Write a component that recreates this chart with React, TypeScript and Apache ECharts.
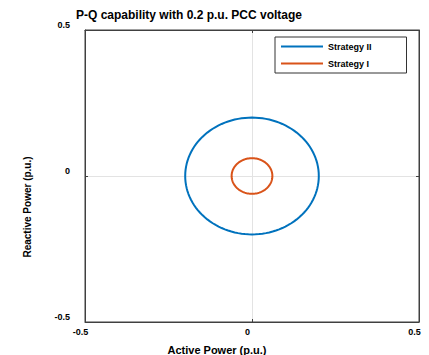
import React, { useEffect, useRef } from "react";
import * as echarts from "echarts";

const titleText = "P-Q capability with 0.2 p.u. PCC voltage";
const seriesNames = ["Strategy II", "Strategy I"];
const seriesColors = ["#0072BD", "#D95319"];
// radius (p.u.) of each capability circle
const circleRadius = [0.2, 0.061];
const circleCenterP = [0, 0];
const circleCenterQ = [0, 0];
const axisMin = -0.5;
const axisMax = 0.5;
const axisStep = 0.5;
const xName = "Active Power (p.u.)";
const yName = "Reactive Power (p.u.)";

const SEGMENTS = 120;

function circlePoints(i: number): number[][] {
  const pts: number[][] = [];
  for (let k = 0; k <= SEGMENTS; k++) {
    const a = (2 * Math.PI * k) / SEGMENTS;
    pts.push([
      circleCenterP[i] + circleRadius[i] * Math.cos(a),
      circleCenterQ[i] + circleRadius[i] * Math.sin(a),
    ]);
  }
  return pts;
}

const FONT = "Liberation Sans, Arial, sans-serif";
const AXIS_COLOR = "#404040";

export default function App() {
  const ref = useRef<HTMLDivElement>(null);
  useEffect(() => {
    if (!ref.current) return;
    const chart = echarts.init(ref.current, undefined, { renderer: "svg" });
    const fmt = (v: number) => (v === 0 ? "0" : String(v));
    const edgeAxis = {
      type: "value",
      min: axisMin,
      max: axisMax,
      interval: axisStep,
      axisLine: { show: true, onZero: false, lineStyle: { color: AXIS_COLOR } },
      axisTick: { show: true, inside: true, length: 3, lineStyle: { color: AXIS_COLOR } },
      axisLabel: { show: false },
      splitLine: { show: false },
    };
    chart.setOption({
      animation: false,
      backgroundColor: "#ffffff",
      title: {
        text: titleText,
        left: 71,
        top: 4,
        textStyle: { fontFamily: FONT, fontSize: 12, fontWeight: "bold", color: "#000" },
      },
      grid: {
        left: 85,
        right: 10,
        top: 30,
        bottom: 33,
        containLabel: false,
        outerBoundsMode: "none",
        show: true,
        borderColor: AXIS_COLOR,
        borderWidth: 1,
      },
      legend: {
        orient: "vertical",
        left: 275,
        top: 37,
        padding: [5, 35, 5, 6],
        itemGap: 8,
        itemWidth: 42,
        itemHeight: 9,
        borderColor: "#333",
        borderWidth: 1,
        backgroundColor: "#fff",
        icon: "path://M0,3.5L42,3.5L42,5.5L0,5.5Z",
        data: seriesNames,
        textStyle: { fontFamily: FONT, fontSize: 9, fontWeight: "bold", color: "#000" },
      },
      xAxis: [
        {
          type: "value",
          min: axisMin,
          max: axisMax,
          interval: axisStep,
          position: "bottom",
          name: xName,
          nameLocation: "middle",
          nameGap: 22,
          nameTextStyle: {
            fontFamily: FONT,
            fontSize: 11,
            fontWeight: "bold",
            color: "#000",
            padding: [0, 70, 0, 0],
          },
          axisLine: { show: true, onZero: false, lineStyle: { color: AXIS_COLOR } },
          axisTick: { show: true, inside: true, length: 3, lineStyle: { color: AXIS_COLOR } },
          axisLabel: {
            formatter: fmt,
            fontFamily: FONT,
            fontSize: 9,
            fontWeight: "bold",
            color: "#000",
            margin: 5,
            padding: [0, 9, 0, 0],
          },
          splitLine: { show: true, lineStyle: { color: "#e3e3e3" } },
        },
        { ...edgeAxis, position: "top" },
      ],
      yAxis: [
        {
          type: "value",
          min: axisMin,
          max: axisMax,
          interval: axisStep,
          position: "left",
          name: yName,
          nameLocation: "middle",
          nameGap: 53,
          nameTextStyle: {
            fontFamily: FONT,
            fontSize: 10,
            fontWeight: "bold",
            color: "#000",
            padding: [0, 62, 0, 0],
          },
          axisLine: { show: true, onZero: false, lineStyle: { color: AXIS_COLOR } },
          axisTick: { show: true, inside: true, length: 3, lineStyle: { color: AXIS_COLOR } },
          axisLabel: {
            formatter: fmt,
            fontFamily: FONT,
            fontSize: 9,
            fontWeight: "bold",
            color: "#000",
            margin: 15,
            verticalAlign: "bottom",
            lineHeight: 10,
          },
          splitLine: { show: true, lineStyle: { color: "#e3e3e3" } },
        },
        { ...edgeAxis, position: "right" },
      ],
      series: seriesNames.map((name, i) => ({
        name,
        type: "line",
        data: circlePoints(i),
        showSymbol: false,
        symbol: "none",
        smooth: false,
        color: seriesColors[i],
        lineStyle: { color: seriesColors[i], width: 2 },
      })),
    });
    return () => chart.dispose();
  }, []);
  return (
    <div
      ref={ref}
      style={{ position: "fixed", left: 0, top: 0, width: 429, height: 355 }}
    />
  );
}
